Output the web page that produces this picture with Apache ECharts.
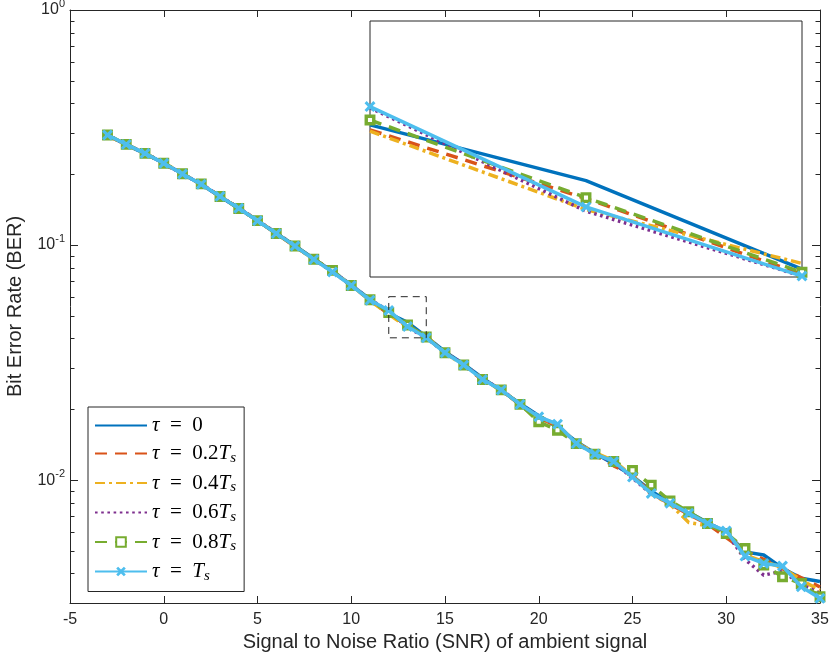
<!DOCTYPE html>
<html><head><meta charset="utf-8">
<script src="https://cdn.jsdelivr.net/npm/echarts@6/dist/echarts.min.js"></script>
<style>html,body{margin:0;padding:0;background:#fff}#c{width:830px;height:654px}</style>
</head><body><div id="c"></div>
<script>
// ---- data ----
const snr = [-3,-2,-1,0,1,2,3,4,5,6,7,8,9,10,11,12,13,14,15,16,17,18,19,20,21,22,23,24,25,26,27,28,29,30,31,32,33,34,35];
const berTau0   = [0.293,0.267,0.245,0.223,0.201,0.181,0.161,0.143,0.127,0.112,0.0995,0.0875,0.0772,0.0676,0.0588,0.0512,0.0469,0.0408,0.0352,0.0311,0.0272,0.0240,0.0212,0.0188,0.0168,0.0146,0.0130,0.0117,0.0104,0.00900,0.00800,0.00730,0.00660,0.00600,0.00495,0.00480,0.00422,0.00382,0.00370];
const berTau02  = [0.292,0.268,0.246,0.222,0.200,0.182,0.161,0.144,0.127,0.112,0.0985,0.0872,0.0775,0.0670,0.0585,0.0508,0.0456,0.04047,0.0350,0.0308,0.0266,0.0244,0.0208,0.0184,0.0170,0.0145,0.0128,0.0115,0.0105,0.00880,0.00790,0.00715,0.00650,0.00570,0.00500,0.00460,0.00420,0.00384,0.00351];
const berTau04  = [0.293,0.267,0.245,0.224,0.201,0.181,0.162,0.143,0.127,0.112,0.0990,0.0868,0.0770,0.0675,0.0580,0.0507,0.04482,0.04117,0.0345,0.0310,0.0270,0.0240,0.0211,0.0185,0.0172,0.0144,0.0131,0.0121,0.0104,0.00870,0.00790,0.00660,0.00640,0.00610,0.00480,0.00450,0.00425,0.00375,0.00340];
const berTau06  = [0.294,0.268,0.246,0.223,0.200,0.182,0.161,0.144,0.127,0.113,0.0990,0.0870,0.0770,0.0675,0.0585,0.0526,0.0447,0.04036,0.0348,0.0312,0.0268,0.0244,0.0209,0.0187,0.0171,0.0144,0.0129,0.0119,0.0102,0.00875,0.00800,0.00720,0.00660,0.00600,0.00460,0.00394,0.00410,0.00360,0.00330];
const berTau08  = [0.294,0.268,0.2455,0.223,0.201,0.182,0.161,0.143,0.127,0.112,0.0990,0.0870,0.0780,0.0673,0.0585,0.0516,0.04566,0.0406,0.0348,0.0309,0.0268,0.0242,0.0210,0.0177,0.0163,0.0143,0.0129,0.0120,0.0110,0.00952,0.00816,0.00733,0.00654,0.00593,0.00512,0.00435,0.00388,0.00363,0.00319];
const berTauTs  = [0.294,0.268,0.2455,0.2228,0.2005,0.1813,0.1611,0.1433,0.1269,0.1121,0.0990,0.0869,0.0768,0.0673,0.0583,0.0527,0.0450,0.04036,0.0348,0.0309,0.0268,0.0242,0.0210,0.0186,0.0173,0.0143,0.0129,0.0120,0.0103,0.00878,0.00798,0.00722,0.00654,0.00608,0.00475,0.00442,0.00431,0.00352,0.00314];
const seriesNames = ['τ = 0','τ = 0.2Ts','τ = 0.4Ts','τ = 0.6Ts','τ = 0.8Ts','τ = Ts'];
const xTicks = [-5,0,5,10,15,20,25,30,35];
const yMajorTicks = [0.01,0.1,1];
const yMinorTicks = [0.004,0.005,0.006,0.007,0.008,0.009,0.02,0.03,0.04,0.05,0.06,0.07,0.08,0.09,0.2,0.3,0.4,0.5,0.6,0.7,0.8,0.9];
const zoomX = [12,14];
const zoomY = [0.0403,0.0603];

// ---- styles ----
const colors = ['#0072BD','#D95319','#EDB120','#7E2F8E','#77AC30','#4DBEEE'];
const dashes = ['solid',[12,8],[10,4,3,4],[2.6,3.6],[12,8],'solid'];
const allData = [berTau0,berTau02,berTau04,berTau06,berTau08,berTauTs];
const axisColor = '#262626';
const xMarker = 'path://M2,0L5,3L8,0L10,2L7,5L10,8L8,10L5,7L2,10L0,8L3,5L0,2Z';
const LW = 3.5;

function pairs(arr, lo, hi){
  const out=[];
  for(let i=0;i<snr.length;i++){ if(snr[i]>=lo && snr[i]<=hi) out.push([snr[i],arr[i]]); }
  return out;
}
function makeSeries(k, xi, yi, lo, hi, inLegend){
  const s = {
    type:'line', name: inLegend ? seriesNames[k] : seriesNames[k]+' (zoom)',
    xAxisIndex:xi, yAxisIndex:yi,
    data: pairs(allData[k], lo, hi),
    lineStyle:{color:colors[k], width:LW, type:dashes[k]},
    itemStyle:{color:colors[k]},
    symbol:'none', animation:false, silent:true, z: (inLegend?2:20)+k
  };
  if(k===4){ s.symbol='rect'; s.symbolSize=7.5; s.itemStyle={color:'#fff',borderColor:colors[4],borderWidth:3.4}; }
  if(k===5){ s.symbol=xMarker; s.symbolSize=11; s.itemStyle={color:colors[5]}; }
  return s;
}

const series = [];
for(let k=0;k<6;k++) series.push(makeSeries(k,0,0,-100,100,true));
series[0].markArea = {silent:true, z:30, itemStyle:{color:'rgba(0,0,0,0)',borderColor:axisColor,borderWidth:1,borderType:[7,5]},
  data:[[{coord:[zoomX[0],zoomY[1]]},{coord:[zoomX[1],zoomY[0]]}]]};
for(let k=0;k<6;k++) series.push(makeSeries(k,2,4,zoomX[0],zoomX[1],false));

function yAx(position, ticks, len, showLabel, showLine){
  return {type:'log', logBase:10, gridIndex:0, min:0.003, max:1, position:position,
    axisLine:{show:showLine, onZero:false, lineStyle:{color:axisColor,width:1}},
    axisTick:{show:true, inside:true, length:len, customValues:ticks, lineStyle:{color:axisColor,width:1}},
    axisLabel:{show:showLabel, customValues:yMajorTicks, margin:5,
      formatter:function(v){ const e=Math.round(Math.log10(v)); return '{b|10}{s|'+e+'}'; },
      rich:{b:{fontFamily:'Liberation Sans',fontSize:16,color:axisColor}, s:{fontFamily:'Liberation Sans',fontSize:11,color:axisColor,padding:[0,0,12,0]}}},
    splitLine:{show:false}, minorTick:{show:false}};
}

const hiddenSym = {color:'rgba(0,0,0,0)', borderWidth:0, opacity:0};
const option = {
  backgroundColor:'#fff',
  animation:false,
  grid:[
    {left:70, right:10, top:10, bottom:51, show:false, containLabel:false, outerBoundsMode:'none'},
    {left:370, top:21, width:432, height:256, show:true, backgroundColor:'#fff', borderColor:axisColor, borderWidth:1, z:10, containLabel:false, outerBoundsMode:'none'}
  ],
  xAxis:[
    {type:'value', gridIndex:0, min:-5, max:35, interval:5, position:'bottom',
      name:'Signal to Noise Ratio (SNR) of ambient signal', nameLocation:'middle', nameGap:24,
      nameTextStyle:{fontFamily:'Liberation Sans', fontSize:20, color:axisColor},
      axisLine:{onZero:false, lineStyle:{color:axisColor,width:1}},
      axisTick:{inside:true,length:7,lineStyle:{color:axisColor}},
      axisLabel:{margin:9, fontFamily:'Liberation Sans', fontSize:16, color:axisColor}, splitLine:{show:false}},
    {type:'value', gridIndex:0, min:-5, max:35, interval:5, position:'top',
      axisLine:{onZero:false, lineStyle:{color:axisColor,width:1}},
      axisTick:{inside:true,length:7,lineStyle:{color:axisColor}},
      axisLabel:{show:false}, splitLine:{show:false}},
    {type:'value', gridIndex:1, min:zoomX[0], max:zoomX[1], show:false, splitLine:{show:false}}
  ],
  yAxis:[
    Object.assign(yAx('left', yMajorTicks, 8, true, true), {name:'Bit Error Rate (BER)', nameLocation:'middle', nameGap:45,
      nameTextStyle:{fontFamily:'Liberation Sans', fontSize:20, color:axisColor}}),
    yAx('left', yMinorTicks, 4.5, false, false),
    yAx('right', yMajorTicks, 8, false, true),
    yAx('right', yMinorTicks, 4.5, false, false),
    {type:'log', logBase:10, gridIndex:1, min:zoomY[0], max:zoomY[1], show:false, splitLine:{show:false}}
  ],
  legend:{
    data:[
      {name:seriesNames[0], itemStyle:hiddenSym},
      {name:seriesNames[1], itemStyle:hiddenSym},
      {name:seriesNames[2], itemStyle:hiddenSym},
      {name:seriesNames[3], itemStyle:hiddenSym},
      {name:seriesNames[4]},
      {name:seriesNames[5]}
    ],
    orient:'vertical', left:88, top:407,
    backgroundColor:'#fff', borderColor:axisColor, borderWidth:1,
    padding:[8,8,8,6], itemGap:7, itemWidth:52, itemHeight:12,
    selectedMode:false, z:40,
    formatter:function(n){
      if(n==='τ = 0') return '{i|τ}{r|\u2002=\u20020}';
      if(n==='τ = Ts') return '{i|τ}{r|\u2002=\u2002}{i|T}{s|s}';
      const num = n.replace('τ = ','').replace('Ts','');
      return '{i|τ}{r|\u2002=\u2002'+num+'}{i|T}{s|s}';
    },
    textStyle:{rich:{
      i:{fontFamily:'Liberation Serif',fontStyle:'italic',fontSize:21,color:'#000',lineHeight:22},
      r:{fontFamily:'Liberation Serif',fontSize:21,color:'#000',lineHeight:22},
      s:{fontFamily:'Liberation Serif',fontStyle:'italic',fontSize:15,color:'#000',padding:[9,0,0,0]}
    }}
  },
  series:series
};
const chart = echarts.init(document.getElementById('c'), null, {renderer:'canvas'});
chart.setOption(option);
</script>
</body></html>
